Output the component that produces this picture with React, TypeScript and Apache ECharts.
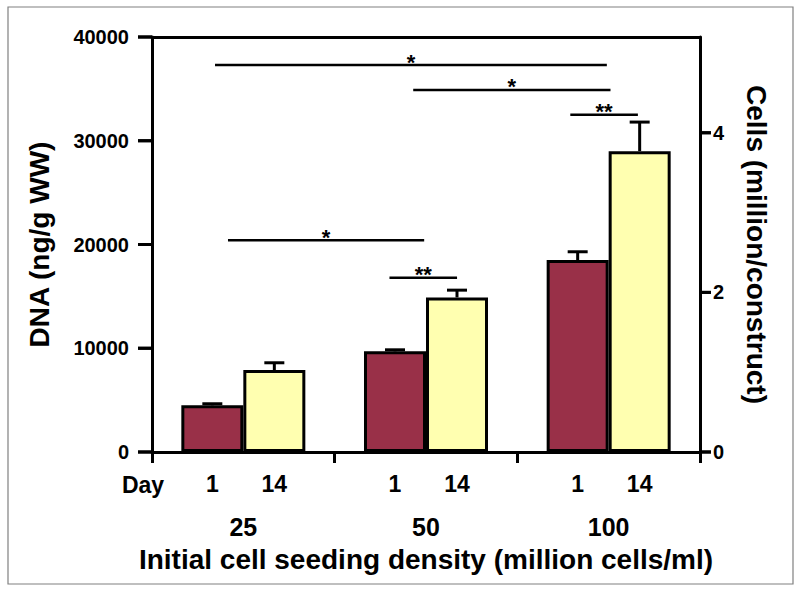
import React, { useEffect, useRef } from "react";
import * as echarts from "echarts";

const categories = ["25", "50", "100"];
const dayNames = ["1", "14"];
const day1Values = [4500, 9700, 18500];
const day14Values = [7900, 14900, 29000];
const day1ErrTop = [4650, 9850, 19300];
const day14ErrTop = [8600, 15600, 31800];
const dnaTicks = [0, 10000, 20000, 30000, 40000];
const cellTicks = [0, 2, 4];
const DNA_MAX = 40000;
const CELL_MAX = 5.2;

// significance brackets: y value (DNA), start/end in group units (0..3), mark
const sigY = [37300, 34900, 32500, 20400, 16800];
const sigStart = [0.345, 1.43, 2.29, 0.416, 1.3];
const sigEnd = [2.49, 2.51, 2.66, 1.49, 1.67];
const sigMark = ["*", "*", "**", "*", "**"];

const FONT = "'Liberation Sans', Arial, sans-serif";
const DARK = "#993048";
const LIGHT = "#FFFFB0";

export default function App() {
  const ref = useRef<HTMLDivElement>(null);

  useEffect(() => {
    if (!ref.current) return;
    const chart = echarts.init(ref.current, undefined, { renderer: "svg" });

    const halfBar = 31;
    const errItem = (offset: number) => (params: any, api: any) => {
      const top = api.coord([api.value(0), api.value(2)]);
      const base = api.coord([api.value(0), api.value(1)]);
      const x = top[0] + offset;
      return {
        type: "group",
        children: [
          {
            type: "line",
            shape: { x1: x, y1: base[1], x2: x, y2: top[1] },
            style: { stroke: "#000", lineWidth: 3 },
          },
          {
            type: "line",
            shape: { x1: x - 10, y1: top[1], x2: x + 10, y2: top[1] },
            style: { stroke: "#000", lineWidth: 3 },
          },
        ],
      };
    };

    const tickRect = (p: number[], dx: number) => ({
      type: "rect",
      shape: { x: Math.min(p[0], p[0] + dx), y: p[1] - 1.5, width: Math.abs(dx), height: 3 },
      style: { fill: "#000" },
    });

    const tickItem = (dx: number) => (params: any, api: any) => {
      const p = api.coord([api.value(0), api.value(1)]);
      return { type: "group", children: [tickRect(p, dx)] };
    };

    const dayLabel = {
      show: true,
      position: ["50%", "100%"],
      align: "center",
      verticalAlign: "middle",
      offset: [0, 32],
      formatter: (p: any) => p.seriesName,
      fontFamily: FONT,
      fontWeight: "bold",
      fontSize: 23,
      color: "#000",
    };

    const titleStyle = { fontFamily: FONT, fontWeight: "bold", fontSize: 28, color: "#000" };

    const option: any = {
      animation: false,
      backgroundColor: "#fff",
      grid: { left: 152, right: 100, top: 37, bottom: 140 },
      xAxis: [
        {
          type: "category",
          data: categories,
          position: "bottom",
          axisLine: { show: true, onZero: false, lineStyle: { color: "#000", width: 3 } },
          axisTick: { show: true, length: 11, lineStyle: { color: "#000", width: 3 } },
          axisLabel: {
            margin: 62,
            fontFamily: FONT,
            fontWeight: "bold",
            fontSize: 25,
            lineHeight: 25,
            color: "#000",
          },
          name: "Initial cell seeding density (million cells/ml)",
          nameLocation: "middle",
          nameGap: 93,
          nameTextStyle: titleStyle,
          splitLine: { show: false },
        },
        {
          type: "value",
          min: 0,
          max: 3,
          position: "top",
          axisLine: { show: true, onZero: false, lineStyle: { color: "#000", width: 3 } },
          axisTick: { show: false },
          axisLabel: { show: false },
          splitLine: { show: false },
        },
      ],
      yAxis: [
        {
          type: "value",
          min: 0,
          max: DNA_MAX,
          interval: 10000,
          position: "left",
          axisLine: { show: true, onZero: false, lineStyle: { color: "#000", width: 3 } },
          axisTick: { show: false },
          axisLabel: {
            margin: 23,
            fontFamily: FONT,
            fontWeight: "bold",
            fontSize: 20,
            color: "#000",
            formatter: (v: number) => String(v),
          },
          splitLine: { show: false },
          name: "DNA (ng/g WW)",
          nameLocation: "middle",
          nameGap: 99,
          nameTextStyle: titleStyle,
        },
        {
          type: "value",
          min: 0,
          max: CELL_MAX,
          position: "right",
          axisLine: { show: true, onZero: false, lineStyle: { color: "#000", width: 3 } },
          axisTick: { show: false },
          axisLabel: {
            margin: 13,
            customValues: cellTicks,
            fontFamily: FONT,
            fontWeight: "bold",
            fontSize: 20,
            color: "#000",
          },
          splitLine: { show: false },
          name: "Cells (million/construct)",
          nameLocation: "middle",
          nameRotate: -90,
          nameGap: 42,
          nameTextStyle: titleStyle,
        },
      ],
      series: [
        {
          name: dayNames[0],
          type: "bar",
          xAxisIndex: 0,
          yAxisIndex: 0,
          data: day1Values,
          barWidth: 62,
          barGap: "0%",
          itemStyle: { color: DARK, borderColor: "#000", borderWidth: 3 },
          label: dayLabel,
          z: 3,
        },
        {
          name: dayNames[1],
          type: "bar",
          xAxisIndex: 0,
          yAxisIndex: 0,
          data: day14Values,
          barWidth: 62,
          barGap: "0%",
          itemStyle: { color: LIGHT, borderColor: "#000", borderWidth: 3 },
          label: dayLabel,
          z: 3,
        },
        {
          type: "custom",
          xAxisIndex: 0,
          yAxisIndex: 0,
          clip: false,
          z: 2,
          data: categories.map((c, i) => [i, day1Values[i], day1ErrTop[i]]),
          renderItem: errItem(-halfBar),
        },
        {
          type: "custom",
          xAxisIndex: 0,
          yAxisIndex: 0,
          clip: false,
          z: 2,
          data: categories.map((c, i) => [i, day14Values[i], day14ErrTop[i]]),
          renderItem: errItem(halfBar),
        },
        {
          type: "custom",
          xAxisIndex: 1,
          yAxisIndex: 0,
          clip: false,
          z: 50,
          data: dnaTicks.map((v) => [0, v]),
          renderItem: tickItem(-14),
        },
        {
          type: "custom",
          xAxisIndex: 1,
          yAxisIndex: 1,
          clip: false,
          z: 50,
          data: cellTicks.map((v) => [3, v]),
          renderItem: tickItem(11),
        },
        {
          type: "custom",
          xAxisIndex: 1,
          yAxisIndex: 0,
          clip: false,
          z: 4,
          data: sigY.map((y, i) => [sigStart[i], sigEnd[i], y, i]),
          renderItem: (params: any, api: any) => {
            const p1 = api.coord([api.value(0), api.value(2)]);
            const p2 = api.coord([api.value(1), api.value(2)]);
            const mark = sigMark[api.value(3)];
            const children: any[] = [
              {
                type: "line",
                shape: { x1: p1[0], y1: p1[1], x2: p2[0], y2: p2[1] },
                style: { stroke: "#000", lineWidth: 2.5 },
              },
              {
                type: "text",
                x: (p1[0] + p2[0]) / 2,
                y: p1[1] - 3,
                style: {
                  text: mark,
                  fontFamily: FONT,
                  fontWeight: "bold",
                  fontSize: 22,
                  fill: "#000",
                  align: "center",
                  verticalAlign: "middle",
                  textAlign: "center",
                  textVerticalAlign: "middle",
                },
              },
            ];
            if (params.dataIndex === 0) {
              // axis ticks (backup drawing through the same scales)
              dnaTicks.forEach((v) => children.push(tickRect(api.coord([0, v]), -14)));
              cellTicks.forEach((v) =>
                children.push(tickRect(api.coord([3, (v * DNA_MAX) / CELL_MAX]), 11))
              );
            }
            return { type: "group", children };
          },
        },
      ],
      graphic: [
        {
          type: "rect",
          shape: { x: 8, y: 7, width: 785, height: 577 },
          style: { fill: "none", stroke: "#808080", lineWidth: 1.2 },
          silent: true,
        },
        {
          type: "text",
          x: 143,
          y: 485,
          style: {
            text: "Day",
            fontFamily: FONT,
            fontWeight: "bold",
            fontSize: 23,
            fill: "#000",
            align: "center",
            verticalAlign: "middle",
            textAlign: "center",
            textVerticalAlign: "middle",
          },
        },
      ],
    };

    chart.setOption(option);
    return () => chart.dispose();
  }, []);

  return (
    <div style={{ position: "absolute", left: 0, top: 0, width: 800, height: 592, background: "#fff" }}>
      <div ref={ref} style={{ width: 800, height: 592 }} />
    </div>
  );
}
